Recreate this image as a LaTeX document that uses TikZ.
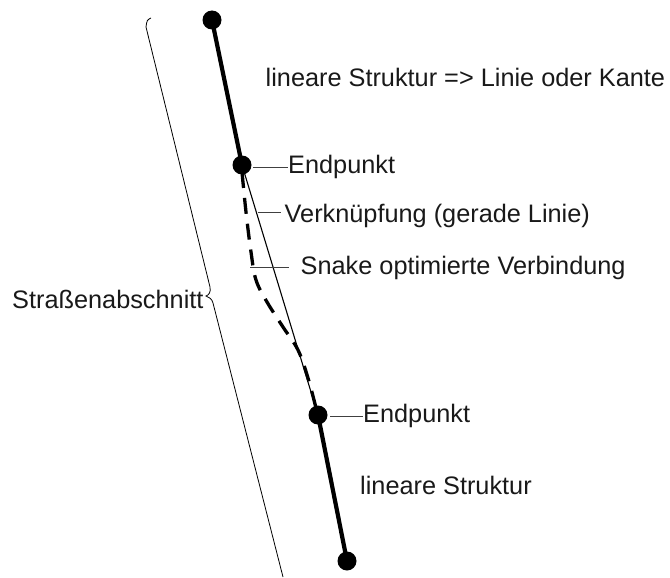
\documentclass[tikz,border=0pt]{standalone}
\usepackage{fontspec}
\setmainfont{Liberation Sans}
\begin{document}
\begin{tikzpicture}[x=1pt,y=-1pt,
  dot/.style={circle,fill=black,inner sep=0pt,minimum size=19pt},
  thickline/.style={line width=4.2pt},
  thinline/.style={line width=1.1pt},
  leader/.style={line width=0.8pt,black!75},
  snakeline/.style={line width=3.3pt,dash pattern=on 16pt off 10pt},
  bracestyle/.style={line width=0.8pt},
  lbl/.style={anchor=base west,inner sep=0pt,font=\fontsize{25.3}{30}\selectfont,text=black!90}]
\useasboundingbox (0,0) rectangle (670,578);

% end points
\node[dot] (p1) at (212,20) {};
\node[dot] (p2) at (242,165) {};
\node[dot] (p3) at (318,415) {};
\node[dot] (p4) at (347,561) {};

% linear structures
\draw[thickline] (p1.center) -- (p2.center);
\draw[thickline] (p3.center) -- (p4.center);

% straight connection
\draw[thinline] (p2.center) -- (p3.center);

% snake optimised connection
\draw[snakeline] plot[smooth,tension=0.6] coordinates
  {(242,172) (246,212) (251,252) (256,280) (267,302) (283,327) (298,350) (308,378) (316,408)};

% brace
\draw[bracestyle] (151,18) .. controls (147,20) .. (146,27) -- (210,287)
  .. controls (211,292) and (209,295) .. (206,296)
  .. controls (209,297) and (212,299) .. (213,303) -- (283,577);

% labels
\node[lbl] (t1) at (265.5,87) {lineare Struktur => Linie oder Kante};
\node[lbl] (e1) at (288,173) {Endpunkt};
\node[lbl] (vk) at (284.5,222) {Verknüpfung (gerade Linie)};
\node[lbl] (sn) at (300.5,274) {Snake optimierte Verbindung};
\node[lbl] (e2) at (363,422) {Endpunkt};
\node[lbl] (t2) at (360,494) {lineare Struktur};
\node[lbl] (st) at (12,308) {Straßenabschnitt};

% leader lines
\coordinate (c1) at (253,167);
\coordinate (c2) at (258,212);
\coordinate (c3) at (250,267);
\coordinate (c4) at (330,416);
\draw[leader] (c1) -- (c1 -| e1.west);
\draw[leader] (c2) -- ([xshift=-4pt]c2 -| vk.west);
\draw[leader] (c3) -- ([xshift=-12pt]c3 -| sn.west);
\draw[leader] (c4) -- (c4 -| e2.west);
\end{tikzpicture}
\end{document}
